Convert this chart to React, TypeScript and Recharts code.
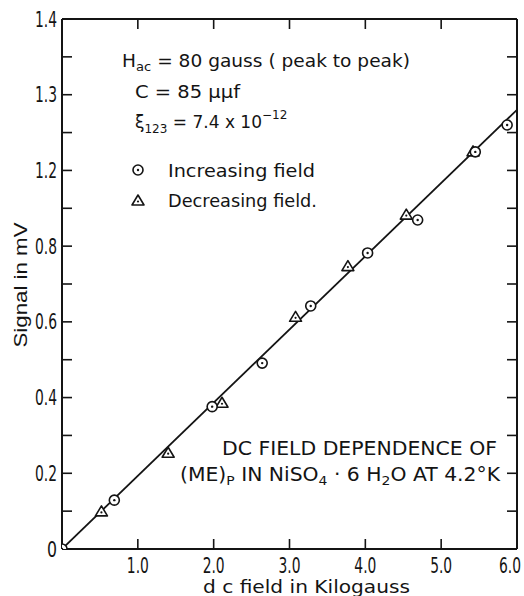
import { ComposedChart, Scatter, XAxis, YAxis, Customized } from "recharts";

const INK = "#141414";

// increasing field (circles)
const FIELD_INC = [0, 0.69, 1.98, 2.64, 3.28, 4.03, 4.69, 5.45, 5.87];
const SIGNAL_INC = [0, 0.129, 0.376, 0.491, 0.642, 0.782, 0.869, 1.049, 1.12];

// decreasing field (triangles)
const FIELD_DEC = [0.52, 1.4, 2.11, 3.08, 3.77, 4.54, 5.42];
const SIGNAL_DEC = [0.098, 0.253, 0.385, 0.612, 0.746, 0.882, 1.049];

// fitted straight line
const FIT_FIELD = [0, 6.0];
const FIT_SIGNAL = [0, 1.16];

const X_TICKS = [0, 1, 2, 3, 4, 5, 6];
const X_TICK_LABELS = ["", "1.0", "2.0", "3.0", "4.0", "5.0", "6.0"];
const Y_TICKS = [0, 0.1, 0.2, 0.3, 0.4, 0.5, 0.6, 0.7, 0.8, 0.9, 1.0, 1.1, 1.2, 1.3, 1.4];
const Y_TICK_LABELS = ["0", "", "0.2", "", "0.4", "", "0.6", "", "0.8", "", "1.2", "", "1.3", "", "1.4"];

const incData = FIELD_INC.map((x, i) => ({ x, y: SIGNAL_INC[i] }));
const decData = FIELD_DEC.map((x, i) => ({ x, y: SIGNAL_DEC[i] }));
const fitData = FIT_FIELD.map((x, i) => ({ x, y: FIT_SIGNAL[i] }));

const NARROW = "'Liberation Sans Narrow', 'DejaVu Sans Condensed', sans-serif";
const LETTER = "'DejaVu Sans', 'Liberation Sans', sans-serif";

function CircleMark({ cx, cy }: { cx: number; cy: number }) {
  return (
    <g>
      <circle cx={cx} cy={cy} r={5} fill="#fff" stroke={INK} strokeWidth={1.6} />
      <circle cx={cx} cy={cy} r={1.2} fill={INK} />
    </g>
  );
}

function TriMark({ cx, cy }: { cx: number; cy: number }) {
  const pts = `${cx},${cy - 6} ${cx - 6},${cy + 4} ${cx + 6},${cy + 4}`;
  return (
    <g>
      <polygon points={pts} fill="#fff" stroke={INK} strokeWidth={1.6} strokeLinejoin="round" />
      <circle cx={cx} cy={cy + 0.5} r={1.1} fill={INK} />
    </g>
  );
}

// narrow, tall numerals like the lettering guide on the original
function labelWidth(s: string) {
  return s.length === 1 ? 10 : 22;
}

function YTick(props: any) {
  const s = Y_TICK_LABELS[props.index];
  if (!s) return null;
  return (
    <text x={props.x} y={props.y} dy="0.36em" textAnchor="end" fontSize={21} fill={INK} fontFamily={NARROW}
      textLength={labelWidth(s)} lengthAdjust="spacingAndGlyphs">
      {s}
    </text>
  );
}

function XTick(props: any) {
  const s = X_TICK_LABELS[props.index];
  if (!s) return null;
  const last = props.index === X_TICKS.length - 1;
  return (
    <text x={last ? 521 : props.x} y={props.y} dy="0.71em" textAnchor={last ? "end" : "middle"} fontSize={21}
      fill={INK} fontFamily={NARROW} textLength={labelWidth(s)} lengthAdjust="spacingAndGlyphs">
      {s}
    </text>
  );
}

function Notes() {
  return (
    <g fill={INK} fontFamily={LETTER}>
      <text x={122} y={67} fontSize={17} textLength={288} lengthAdjust="spacingAndGlyphs">
        H<tspan fontSize={12} dy={4}>ac</tspan>
        <tspan dy={-4}> = 80 gauss ( peak to peak)</tspan>
      </text>
      <text x={135} y={98} fontSize={17} textLength={105} lengthAdjust="spacingAndGlyphs">
        C = 85 μμf
      </text>
      <text x={135} y={128} fontSize={17}>
        ξ<tspan fontSize={12} dy={5}>123</tspan>
        <tspan dy={-5}> = 7.4 x 10</tspan>
        <tspan fontSize={12} dy={-9}>−12</tspan>
      </text>
      <CircleMark cx={138} cy={170} />
      <text x={168} y={177} fontSize={17} textLength={147} lengthAdjust="spacingAndGlyphs">
        Increasing field
      </text>
      <TriMark cx={138} cy={201} />
      <text x={168} y={207} fontSize={17} textLength={149} lengthAdjust="spacingAndGlyphs">
        Decreasing field.
      </text>
      <text x={222} y={455} fontSize={19} textLength={275} lengthAdjust="spacingAndGlyphs">
        DC FIELD DEPENDENCE OF
      </text>
      <text x={180} y={481} fontSize={19} textLength={320} lengthAdjust="spacingAndGlyphs">
        (ME)<tspan fontSize={13} dy={4}>P</tspan>
        <tspan dy={-4}> IN NiSO</tspan>
        <tspan fontSize={13} dy={4}>4</tspan>
        <tspan dy={-4}> · 6 H</tspan>
        <tspan fontSize={13} dy={4}>2</tspan>
        <tspan dy={-4}>O AT 4.2°K</tspan>
      </text>
      <text x={203} y={593} fontSize={18} textLength={207} lengthAdjust="spacingAndGlyphs">
        d c  field in Kilogauss
      </text>
      <text
        x={0}
        y={0}
        fontSize={19}
        fontFamily="'Liberation Sans', sans-serif"
        textAnchor="middle"
        textLength={125}
        lengthAdjust="spacingAndGlyphs"
        transform="translate(27,285) rotate(-90)"
      >
        Signal in mV
      </text>
    </g>
  );
}

const axisLine = { stroke: INK, strokeWidth: 2 };
const tickLine = { stroke: INK, strokeWidth: 1.6 };

export default function App() {
  return (
    <div style={{ position: "absolute", left: 0, top: 0, background: "#fff" }}>
      <ComposedChart width={524} height={596} margin={{ top: 18, right: 6, bottom: 17, left: 22 }}>
        <XAxis
          xAxisId="b"
          type="number"
          dataKey="x"
          domain={[0, 6]}
          ticks={X_TICKS}
          height={30}
          tickSize={-10}
          tickMargin={19}
          axisLine={axisLine}
          tickLine={tickLine}
          tick={<XTick />}
          allowDataOverflow
        />
        <XAxis
          xAxisId="t"
          orientation="top"
          type="number"
          dataKey="x"
          domain={[0, 6]}
          ticks={X_TICKS}
          tickFormatter={() => ""}
          height={1}
          tickSize={-10}
          axisLine={axisLine}
          tickLine={tickLine}
          allowDataOverflow
        />
        <YAxis
          yAxisId="l"
          type="number"
          dataKey="y"
          domain={[0, 1.4]}
          ticks={Y_TICKS}
          width={40}
          tickSize={-10}
          tickMargin={15}
          axisLine={axisLine}
          tickLine={tickLine}
          tick={<YTick />}
          allowDataOverflow
        />
        <YAxis
          yAxisId="r"
          orientation="right"
          type="number"
          dataKey="y"
          domain={[0, 1.4]}
          ticks={Y_TICKS}
          tickFormatter={() => ""}
          width={1}
          tickSize={-10}
          axisLine={axisLine}
          tickLine={tickLine}
          allowDataOverflow
        />
        <Scatter
          xAxisId="b"
          yAxisId="l"
          data={fitData}
          line={{ stroke: INK, strokeWidth: 1.8 }}
          shape={() => <g />}
          isAnimationActive={false}
        />
        <Scatter
          xAxisId="b"
          yAxisId="l"
          data={decData}
          shape={(p: any) => <TriMark cx={p.cx} cy={p.cy} />}
          isAnimationActive={false}
        />
        <Scatter
          xAxisId="b"
          yAxisId="l"
          data={incData}
          shape={(p: any) => <CircleMark cx={p.cx} cy={p.cy} />}
          isAnimationActive={false}
        />
        <Customized component={Notes} />
      </ComposedChart>
    </div>
  );
}
